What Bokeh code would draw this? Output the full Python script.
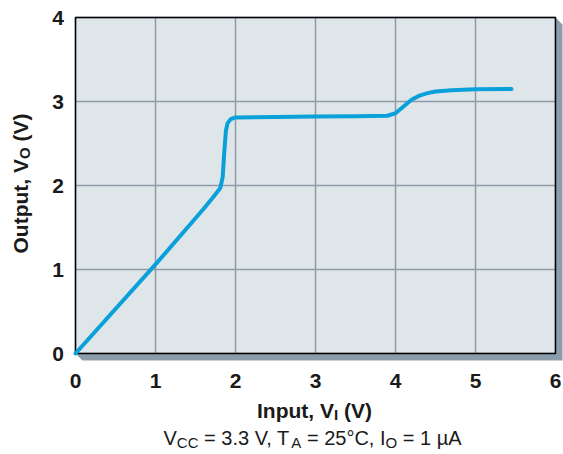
import math
from bokeh.plotting import figure
from bokeh.core.properties import value
from bokeh.embed import file_html
from bokeh.resources import INLINE

# ---- data ----
vin = [0, 1.0, 1.6, 1.72, 1.81, 1.84, 1.86, 1.88, 1.9, 1.94, 2.0, 2.5, 3.0, 3.5, 3.9,
       4.0, 4.1, 4.2, 4.3, 4.4, 4.5, 4.7, 5.0, 5.45]
vout = [0, 1.06, 1.72, 1.86, 1.97, 2.1, 2.4, 2.65, 2.74, 2.79, 2.81, 2.815, 2.82, 2.825, 2.83,
        2.86, 2.94, 3.02, 3.07, 3.10, 3.12, 3.135, 3.145, 3.15]
x_ticks = [0, 1, 2, 3, 4, 5, 6]
y_ticks = [0, 1, 2, 3, 4]
x_tick_labels = [str(v) for v in x_ticks]
y_tick_labels = [str(v) for v in y_ticks]

FONT = "Liberation Sans"
TXT = "#1a1a1a"
LINE_COLOR = "#0aa0da"
BG = "#dfe6ea"
GRID = "#8e9aa6"
SHADOW = "#8b9cab"

W, H = 563, 454
X0PX, XPX = 75.0, 80.0      # page px of x=0, px per unit
Y0PX, YPX = 353.0, 84.0     # page px of y=0, px per unit


def fx(px):
    return (px - X0PX) / XPX


def fy(py):
    return (Y0PX - py) / YPX


p = figure(frame_width=W, frame_height=H, min_border=0,
           x_range=(fx(0), fx(W)), y_range=(fy(H), fy(0)),
           x_axis_location=None, y_axis_location=None,
           output_backend="svg", toolbar_location=None)
p.grid.visible = False
p.outline_line_color = None
p.background_fill_color = "white"
p.border_fill_color = "white"

xmin, xmax = x_ticks[0], x_ticks[-1]
ymin, ymax = y_ticks[0], y_ticks[-1]

# drop shadow on right and bottom
sh = [(555, 17), (562, 24), (562, 360), (82, 360), (75, 353), (555, 353)]
p.patch([fx(a) for a, b in sh], [fy(b) for a, b in sh], fill_color=SHADOW, line_color=None)

# plot background
p.quad(left=[xmin], right=[xmax], bottom=[ymin], top=[ymax], fill_color=BG, line_color=None)

# grid
p.segment(x0=x_ticks, y0=[ymin] * len(x_ticks), x1=x_ticks, y1=[ymax] * len(x_ticks),
          line_color=GRID, line_width=1.5)
p.segment(x0=[xmin] * len(y_ticks), y0=y_ticks, x1=[xmax] * len(y_ticks), y1=y_ticks,
          line_color=GRID, line_width=1.5)

# frame outline
p.quad(left=[xmin], right=[xmax], bottom=[ymin], top=[ymax], fill_color=None,
       line_color="black", line_width=1.5)

# curve
p.line(vin, vout, line_color=LINE_COLOR, line_width=4, line_cap="round", line_join="round")

# tick labels
TS = 21
p.text(x=x_ticks, y=[fy(380.5)] * len(x_ticks), text=x_tick_labels,
       text_font=value(FONT), text_font_size=f"{TS}px", text_font_style="bold",
       text_color=TXT, text_align="center", text_baseline="middle")
p.text(x=[fx(63.5)] * len(y_ticks), y=y_ticks, text=y_tick_labels,
       text_font=value(FONT), text_font_size=f"{TS}px", text_font_style="bold",
       text_color=TXT, text_align="right", text_baseline="middle")

# ---- text composition with subscripts ----
W_REG = {' ': 278, ',': 278, '.': 278, '=': 584, '(': 333, ')': 333, '°': 400, 'µ': 576,
         'A': 667, 'C': 722, 'I': 278, 'O': 778, 'T': 611, 'V': 667}
W_BOLD = {' ': 278, ',': 278, '(': 333, ')': 333, 'I': 278, 'O': 778, 'V': 667,
          'n': 611, 'p': 611, 'u': 611, 't': 333}


def width(s, size, bold):
    tab = W_BOLD if bold else W_REG
    return sum(tab.get(c, 556) for c in s) * size / 1000.0


def compose(pieces, cx_px, base_px, bold, rotated=False, baseline="alphabetic"):
    total = sum(width(t, sz, bold) for t, sz, d in pieces)
    pos = -total / 2.0
    for t, sz, d in pieces:
        lead = len(t) - len(t.lstrip(" "))
        start = pos + width(" " * lead, sz, bold)
        core = t.strip(" ")
        if rotated:
            x, y, ang = fx(base_px + d), fy(cx_px - start), math.pi / 2
        else:
            x, y, ang = fx(cx_px + start), fy(base_px + d), 0
        p.text(x=[x], y=[y], text=[core], angle=ang, text_font=value(FONT),
               text_font_size=f"{sz}px", text_font_style="bold" if bold else "normal",
               text_color=TXT, text_align="left", text_baseline=baseline)
        pos += width(t, sz, bold)


MS, SS = 21, 15
compose([("Input, V", MS, 0), ("I", SS, 4), (" (V)", MS, 0)], 314, 410, True,
        baseline="middle")
compose([("Output, V", MS, 0), ("O", SS, 4), (" (V)", MS, 0)], 183, 20, True, rotated=True)
NS, NSS = 20, 15
compose([("V", NS, 0), ("CC", NSS, 5), (" = 3.3 V, T", NS, 0), ("A", NSS, 5),
         (" = 25°C, I", NS, 0), ("O", NSS, 5), (" = 1 µA", NS, 0)], 312, 437, False,
        baseline="middle")

open("out.html", "w").write(file_html(p, INLINE))
